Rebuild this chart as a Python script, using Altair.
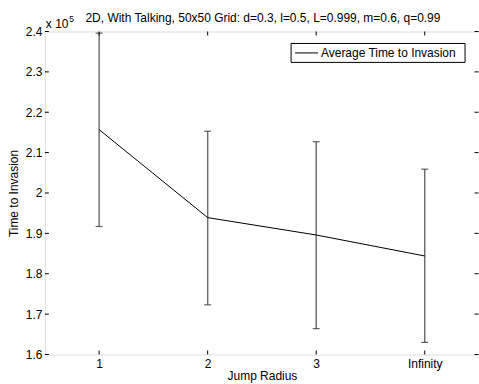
import altair as alt
import pandas as pd

# Mean time to invasion per jump radius, with error-bar limits
radius = ["1", "2", "3", "Infinity"]
mean_time = [215700, 193900, 189600, 184400]
upper = [239600, 215300, 212700, 205900]
lower = [191700, 172300, 166400, 163000]

title_text = "2D, With Talking, 50x50 Grid: d=0.3, l=0.5, L=0.999, m=0.6, q=0.99"
y_ticks = [1.6, 1.7, 1.8, 1.9, 2.0, 2.1, 2.2, 2.3, 2.4]

W, H = 435.5, 324
FONT = "Liberation Sans"
FS = 12

df = pd.DataFrame({"radius": radius, "mean": mean_time, "hi": upper, "lo": lower})
ticks_df = pd.DataFrame({"t": y_ticks})

x_scale = alt.Scale(type="point", domain=radius, padding=0.5)
y_scale = alt.Scale(domain=[1.6, 2.4], nice=False, zero=False)

base = alt.Chart(df).transform_calculate(
    m="datum.mean / 1e5", h="datum.hi / 1e5", l="datum.lo / 1e5"
)

x_enc = alt.X(
    "radius:N", scale=x_scale, sort=radius, title="Jump Radius",
    axis=alt.Axis(labelAngle=0, tickSize=0, labelPadding=4, titlePadding=1,
                  domain=False, grid=False, labelFont=FONT, titleFont=FONT,
                  labelFontSize=FS, titleFontSize=FS, labelColor="black",
                  titleColor="black", titleFontWeight="normal"),
)

stems = base.mark_rule(color="#707070", strokeWidth=1.5).encode(
    x=x_enc,
    y=alt.Y("l:Q", scale=y_scale, title="Time to Invasion",
            axis=alt.Axis(values=y_ticks, format="~g", tickSize=0, labelPadding=3,
                          titlePadding=5, domain=False, grid=False, labelFont=FONT,
                          titleFont=FONT, labelFontSize=FS, titleFontSize=FS,
                          labelColor="black", titleColor="black",
                          titleFontWeight="normal")),
    y2="h:Q",
)

cap_hi = base.mark_tick(color="#222222", size=7, thickness=1.2, orient="horizontal").encode(
    x=alt.X("radius:N", scale=x_scale, sort=radius), y=alt.Y("h:Q", scale=y_scale)
)
cap_lo = base.mark_tick(color="#222222", size=7, thickness=1.2, orient="horizontal").encode(
    x=alt.X("radius:N", scale=x_scale, sort=radius), y=alt.Y("l:Q", scale=y_scale)
)

line = base.mark_line(color="black", strokeWidth=1).encode(
    x=alt.X("radius:N", scale=x_scale, sort=radius), y=alt.Y("m:Q", scale=y_scale)
)

# Inward-pointing tick marks on all four sides of the frame
xt = alt.Chart(df)
bottom_ticks = xt.mark_rule(color="black").encode(
    x=alt.X("radius:N", scale=x_scale, sort=radius), y=alt.value(H), y2=alt.value(H - 4))
top_ticks = xt.mark_rule(color="black").encode(
    x=alt.X("radius:N", scale=x_scale, sort=radius), y=alt.value(0), y2=alt.value(4))
yt = alt.Chart(ticks_df)
left_ticks = yt.mark_rule(color="black").encode(
    y=alt.Y("t:Q", scale=y_scale), x=alt.value(0), x2=alt.value(4))
right_ticks = yt.mark_rule(color="black").encode(
    y=alt.Y("t:Q", scale=y_scale), x=alt.value(W - 4.5), x2=alt.value(W - 0.5))

one = pd.DataFrame({"a": [0]})

# Chart title, drawn as a text mark above the frame
title_mark = alt.Chart(one).mark_text(
    font=FONT, fontSize=FS, color="black", align="center", baseline="alphabetic"
).encode(x=alt.value(W / 2 + 1), y=alt.value(-10), text=alt.value(title_text))

# Exponent note above the y axis
exp_base = alt.Chart(one).mark_text(
    font=FONT, fontSize=FS, color="black", align="left", baseline="alphabetic"
).encode(x=alt.value(1), y=alt.value(-4), text=alt.value("x 10"))
exp_sup = alt.Chart(one).mark_text(
    font=FONT, fontSize=8.5, color="black", align="left", baseline="alphabetic"
).encode(x=alt.value(24.5), y=alt.value(-10), text=alt.value("5"))

# Legend box
legend_box = alt.Chart(one).mark_rect(fill="white", stroke="black", strokeWidth=1).encode(
    x=alt.value(247), x2=alt.value(421.5), y=alt.value(12), y2=alt.value(31))
legend_line = alt.Chart(one).mark_rule(color="black", strokeWidth=1).encode(
    x=alt.value(251), x2=alt.value(274), y=alt.value(21.5))
legend_text = alt.Chart(one).mark_text(font=FONT, fontSize=FS, color="black", align="left",
                                       baseline="middle").encode(
    x=alt.value(277), y=alt.value(21.5), text=alt.value("Average Time to Invasion"))

chart = alt.layer(
    stems, cap_hi, cap_lo, line,
    bottom_ticks, top_ticks, left_ticks, right_ticks,
    title_mark, exp_base, exp_sup, legend_box, legend_line, legend_text,
).properties(
    width=W, height=H,
    autosize=alt.AutoSizeParams(type="none"),
    padding={"left": 45, "top": 31, "right": 0, "bottom": 29},
).configure_view(stroke="black", strokeWidth=1).configure(background="white")

chart.save("out.html", embed_options={"renderer": "svg", "actions": False})
